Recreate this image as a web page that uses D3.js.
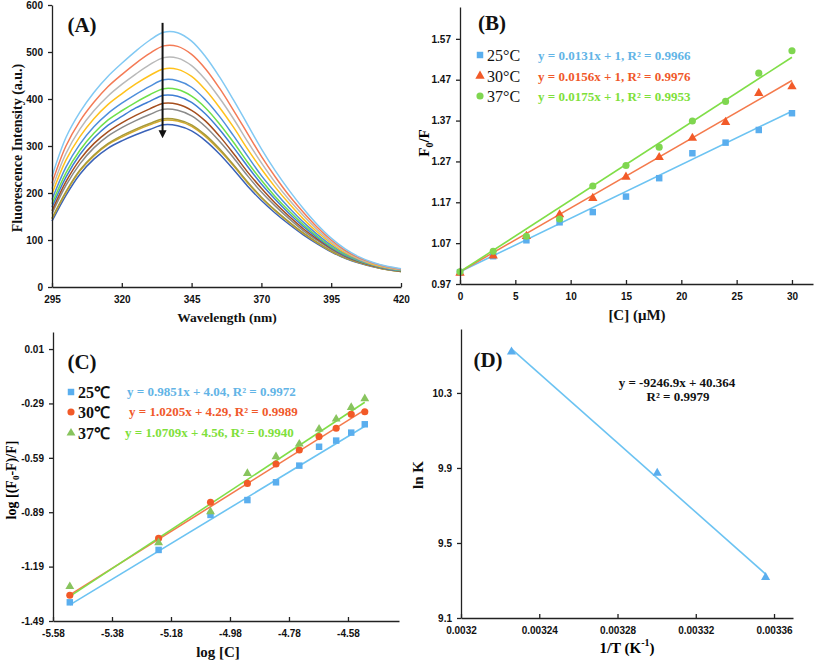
<!DOCTYPE html>
<html><head><meta charset="utf-8">
<script src="https://cdn.jsdelivr.net/npm/d3@7/dist/d3.min.js"></script>
<style>
body{margin:0;background:#fff;}
svg{display:block;font-family:"Liberation Serif","Times New Roman",serif;}
.tick text{font-weight:bold;font-size:10px;fill:#111;}
.domain,.tick line{stroke:#222;stroke-width:1.3;}
</style></head>
<body>
<svg id="chart" width="817" height="661"></svg>
<script>
// ---------- Panel A data ----------
const wavelengths = [295,300,305,310,315,320,325,330,335,340,345,350,355,360,365,370,375,380,385,390,395,400,405,410,415,420];
const spec01 = [235,318,372,414,448,476,502,525,542,541,523,490,447,398,346,294,247,205,167,133,104,81,64,52,44,39];
const spec02 = [221,300,353,393,426,452,476,497,513,512,495,464,423,376,327,278,234,194,159,127,100,78,62,51,43,38];
const spec03 = [209,284,336,375,406,431,453,473,488,487,471,441,402,358,310,264,222,185,152,122,96,76,60,50,42,37];
const spec04 = [198,270,320,358,388,411,432,450,464,463,448,419,382,340,294,251,212,177,145,117,93,73,59,48,41,37];
const spec05 = [186,255,304,341,369,391,410,427,441,439,425,398,363,322,279,237,201,168,138,112,89,71,57,47,40,36];
const spec06 = [177,243,291,327,355,375,393,409,422,420,406,381,347,308,266,227,192,161,133,108,86,69,56,47,40,35];
const spec07 = [170,234,282,317,344,363,381,395,408,406,393,368,335,297,257,219,186,156,129,105,84,67,55,46,39,35];
const spec08 = [162,224,271,305,330,349,365,379,391,389,376,353,321,284,245,210,178,150,124,102,82,66,54,45,39,34];
const spec09 = [156,216,262,296,321,339,354,367,378,376,364,341,310,275,237,202,172,145,120,99,80,64,53,45,38,34];
const spec10 = [146,203,249,281,305,322,336,348,358,356,345,323,294,260,224,191,163,138,115,95,77,62,52,44,37,33];
const spec11 = [145,201,247,279,303,319,333,345,355,353,342,320,291,258,222,190,162,137,114,94,76,62,52,44,37,33];
const spec12 = [140,195,240,272,295,311,324,335,345,343,332,311,283,250,215,184,157,133,111,92,75,61,51,43,37,33];
const specColors = ["#82c9f3","#f47b56","#b9b9b9","#ffc21c","#4f8fdb","#6ee04a","#3f7ed4","#a54e1e","#8a8a8a","#a89a3a","#d4aa2c","#3a62b8"];
const ticksAx = [295,320,345,370,395,420];
const ticksAy = [0,100,200,300,400,500,600];

// ---------- Panel B data ----------
const concB = [0,3,6,9,12,15,18,21,24,27,30];
const ratio25 = [0.999,1.038,1.077,1.121,1.146,1.184,1.229,1.290,1.316,1.347,1.388];
const ratio30 = [0.997,1.039,1.087,1.140,1.180,1.232,1.280,1.327,1.366,1.437,1.453];
const ratio37 = [1.000,1.050,1.087,1.129,1.210,1.260,1.305,1.369,1.417,1.486,1.541];
const slopeB = [0.0131,0.0156,0.0175];
const eqB = ["y = 0.0131x + 1, R² = 0.9966","y = 0.0156x + 1, R² = 0.9976","y = 0.0175x + 1, R² = 0.9953"];
const tempLabelsB = ["25°C","30°C","37°C"];
const ticksBx = [0,5,10,15,20,25,30];
const ticksBy = [0.97,1.07,1.17,1.27,1.37,1.47,1.57];

// ---------- Panel C data ----------
const logC = [-5.523,-5.222,-5.046,-4.921,-4.824,-4.745,-4.678,-4.620,-4.569,-4.523];
const logQ25 = [-1.387,-1.098,-0.905,-0.823,-0.725,-0.633,-0.529,-0.495,-0.451,-0.405];
const logQ30 = [-1.348,-1.034,-0.835,-0.731,-0.624,-0.547,-0.473,-0.427,-0.350,-0.336];
const logQ37 = [-1.300,-1.058,-0.887,-0.676,-0.584,-0.514,-0.431,-0.376,-0.312,-0.264];
const slopeC = [0.9851,1.0205,1.0709];
const interceptC = [4.04,4.29,4.56];
const eqC = ["y = 0.9851x + 4.04, R² = 0.9972","y = 1.0205x + 4.29, R² = 0.9989","y = 1.0709x + 4.56, R² = 0.9940"];
const tempLabelsC = ["25℃","30℃","37℃"];
const ticksCx = [-5.58,-5.38,-5.18,-4.98,-4.78,-4.58];
const ticksCy = [0.01,-0.29,-0.59,-0.89,-1.19,-1.49];

// ---------- Panel D data ----------
const invT = [0.0032258,0.0033003,0.0033557];
const lnK = [10.519,9.873,9.317];
const slopeD = -9246.9, interceptD = 40.364;
const ticksDx = [0.0032,0.00324,0.00328,0.00332,0.00336];
const ticksDy = [9.1,9.5,9.9,10.3];

const svg = d3.select("#chart");
const BLUE="#5aaeee", BLUE_L="#6cc3f2", ORANGE="#f25a28", ORANGE_L="#f47a4c", GREEN="#7fd650", GREEN_L="#80de48";

function axes(x, y, xt, yt, xf, yf){
  const yPos = y.range()[0], xPos = x.range()[0];
  const gx = svg.append("g").attr("transform",`translate(0,${yPos})`)
    .call(d3.axisBottom(x).tickValues(xt).tickFormat(xf).tickSizeInner(-4).tickSizeOuter(0).tickPadding(9));
  gx.selectAll(".tick text").attr("dy","0.71em");
  svg.append("g").attr("transform",`translate(${xPos},0)`)
    .call(d3.axisLeft(y).tickValues(yt).tickFormat(yf).tickSizeInner(4).tickSizeOuter(0).tickPadding(5));
}
function label(x,y,txt,size,opts={}){
  const t = svg.append("text").attr("x",x).attr("y",y).attr("font-size",size)
    .attr("font-weight",opts.weight||"bold").attr("fill",opts.fill||"#111")
    .attr("text-anchor",opts.anchor||"middle").attr("dominant-baseline","central");
  if(opts.rotate) t.attr("transform",`rotate(-90,${x},${y})`);
  t.text(txt);
  return t;
}
function marker(sym, cx, cy, size, fill){
  svg.append("path").attr("d",d3.symbol().type(sym).size(size)())
    .attr("transform",`translate(${cx},${cy})`).attr("fill",fill);
}

// ================= Panel A =================
{
  const x = d3.scaleLinear().domain([295,420]).range([52,401]);
  const y = d3.scaleLinear().domain([0,600]).range([287,5]);
  const specs=[spec01,spec02,spec03,spec04,spec05,spec06,spec07,spec08,spec09,spec10,spec11,spec12];
  const line = d3.line().x((d,i)=>x(wavelengths[i])).y(d=>y(d)).curve(d3.curveCatmullRom.alpha(0.5));
  specs.slice().reverse().forEach((s,k)=>{
    const i = specs.length-1-k;
    svg.append("path").datum(s).attr("d",line).attr("fill","none")
      .attr("stroke",specColors[i]).attr("stroke-width",1.5);
  });
  axes(x,y,ticksAx,ticksAy,d=>d,d=>d);
  svg.append("defs").append("marker").attr("id","ah").attr("viewBox","0 0 10 10")
    .attr("refX",5).attr("refY",5).attr("markerWidth",4).attr("markerHeight",5).attr("orient","auto")
    .append("path").attr("d","M0,0L10,5L0,10Z").attr("fill","#111");
  svg.append("line").attr("x1",x(334.6)).attr("x2",x(334.6)).attr("y1",y(562)).attr("y2",y(325))
    .attr("stroke","#111").attr("stroke-width",2).attr("marker-end","url(#ah)");
  label(82,25,"(A)",21);
  label(227,317,"Wavelength (nm)",13.5);
  label(17,148,"Fluorescence Intensity (a.u.)",14,{rotate:true});
}

// ================= Panel B =================
{
  const x = d3.scaleLinear().domain([0,31.9]).range([460,813]);
  const y = d3.scaleLinear().domain([0.97,1.648]).range([284,7]);
  const sets=[ratio25,ratio30,ratio37];
  const lineCols=[BLUE_L,ORANGE_L,GREEN_L], ptCols=[BLUE,ORANGE,GREEN];
  const syms=[d3.symbolSquare,d3.symbolTriangle,d3.symbolCircle], sz=[42,38,40];
  sets.forEach((s,k)=>{
    svg.append("line").attr("x1",x(0)).attr("y1",y(1)).attr("x2",x(30)).attr("y2",y(1+slopeB[k]*30))
      .attr("stroke",lineCols[k]).attr("stroke-width",1.6);
  });
  sets.forEach((s,k)=>{
    s.forEach((v,i)=>marker(syms[k],x(concB[i]),y(v),sz[k],ptCols[k]));
  });
  axes(x,y,ticksBx,ticksBy,d=>d,d=>d.toFixed(2));
  label(492,23,"(B)",21);
  const eqCols=["#62b4e6","#f0582a","#7ee03a"];
  [55,76,96].forEach((yy,k)=>{
    marker(syms[k],480,yy,sz[k],ptCols[k]);
    label(487,yy,tempLabelsB[k],16,{anchor:"start",weight:"normal"});
    label(538,yy,eqB[k],13,{anchor:"start",fill:eqCols[k]});
  });
  label(637,315,"[C] (μM)",15);
  const t = svg.append("text").attr("x",424).attr("y",143).attr("font-size",15).attr("font-weight","bold")
    .attr("text-anchor","middle").attr("dominant-baseline","central").attr("transform","rotate(-90,424,143)");
  t.append("tspan").text("F");
  t.append("tspan").attr("font-size",10).attr("baseline-shift","sub").text("0");
  t.append("tspan").text("/F");
}

// ================= Panel C =================
{
  const x = d3.scaleLinear().domain([-5.58,-4.407]).range([53,399]);
  const y = d3.scaleLinear().domain([-1.49,0.104]).range([621,332]);
  const sets=[logQ25,logQ30,logQ37];
  const lineCols=[BLUE_L,ORANGE_L,GREEN_L], ptCols=[BLUE,ORANGE,"#88c45e"];
  const syms=[d3.symbolSquare,d3.symbolCircle,d3.symbolTriangle], sz=[42,40,34];
  sets.forEach((s,k)=>{
    const x0=logC[0], x1=logC[logC.length-1];
    svg.append("line").attr("x1",x(x0)).attr("y1",y(slopeC[k]*x0+interceptC[k]))
      .attr("x2",x(x1)).attr("y2",y(slopeC[k]*x1+interceptC[k]))
      .attr("stroke",lineCols[k]).attr("stroke-width",1.6);
  });
  sets.forEach((s,k)=>{
    s.forEach((v,i)=>marker(syms[k],x(logC[i]),y(v),sz[k],ptCols[k]));
  });
  axes(x,y,ticksCx,ticksCy,d=>d.toFixed(2),d=>d.toFixed(2));
  label(82,362,"(C)",21);
  const eqCols=["#62b4e6","#f0582a","#7ee03a"];
  const eqX=[127,129,125];
  [392,412,433].forEach((yy,k)=>{
    marker(syms[k],71,yy,sz[k],ptCols[k]);
    label(78,yy,tempLabelsC[k],16,{anchor:"start"});
    label(eqX[k],yy-1,eqC[k],13,{anchor:"start",fill:eqCols[k]});
  });
  label(218,652,"log [C]",15);
  const t = svg.append("text").attr("x",11).attr("y",480).attr("font-size",14).attr("font-weight","bold")
    .attr("text-anchor","middle").attr("dominant-baseline","central").attr("transform","rotate(-90,11,480)");
  t.append("tspan").text("log [(F");
  t.append("tspan").attr("font-size",9).attr("baseline-shift","sub").text("0");
  t.append("tspan").text("-F)/F]");
}

// ================= Panel D =================
{
  const x = d3.scaleLinear().domain([0.0032,0.0033697]).range([461,793]);
  const y = d3.scaleLinear().domain([9.1,10.641]).range([618,329]);
  svg.append("line").attr("x1",x(invT[0])).attr("y1",y(slopeD*invT[0]+interceptD))
    .attr("x2",x(invT[2])).attr("y2",y(slopeD*invT[2]+interceptD))
    .attr("stroke",BLUE_L).attr("stroke-width",1.6);
  invT.forEach((v,i)=>marker(d3.symbolTriangle,x(v),y(lnK[i]),36,BLUE));
  axes(x,y,ticksDx,ticksDy,d=>String(d),d=>d.toFixed(1));
  label(488,360,"(D)",21);
  label(677,382,"y = -9246.9x + 40.364",13);
  label(678,396,"R² = 0.9979",13);
  label(418,475,"ln K",15,{rotate:true});
  const t = svg.append("text").attr("x",627).attr("y",648).attr("font-size",15).attr("font-weight","bold")
    .attr("text-anchor","middle").attr("dominant-baseline","central");
  t.append("tspan").text("1/T (K");
  t.append("tspan").attr("font-size",10).attr("baseline-shift","super").text("-1");
  t.append("tspan").text(")");
}
</script>
</body></html>
